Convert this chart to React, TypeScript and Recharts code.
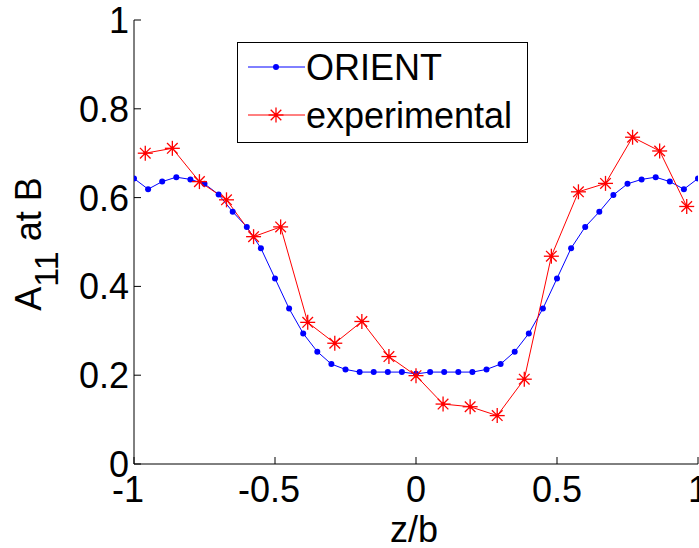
import React from 'react';
import { LineChart, Line, XAxis, YAxis, Legend } from 'recharts';

const FONT = '"Liberation Sans", Arial, Helvetica, sans-serif';

// ORIENT (computed) – z/b positions and A11 values
const orientZ = [
  -1, -0.95, -0.9, -0.85, -0.8, -0.75, -0.7, -0.65, -0.6, -0.55, -0.5,
  -0.45, -0.4, -0.35, -0.3, -0.25, -0.2, -0.15, -0.1, -0.05, 0,
  0.05, 0.1, 0.15, 0.2, 0.25, 0.3, 0.35, 0.4, 0.45, 0.5,
  0.55, 0.6, 0.65, 0.7, 0.75, 0.8, 0.85, 0.9, 0.95, 1,
];
const orientA = [
  0.643, 0.619, 0.636, 0.646, 0.641, 0.631, 0.607, 0.568, 0.534, 0.486, 0.418,
  0.35, 0.294, 0.253, 0.225, 0.213, 0.207, 0.207, 0.207, 0.207, 0.203,
  0.207, 0.207, 0.207, 0.207, 0.213, 0.225, 0.253, 0.294, 0.35, 0.418,
  0.486, 0.534, 0.568, 0.606, 0.631, 0.641, 0.646, 0.636, 0.619, 0.643,
];

// experimental – z/b positions and A11 values
const expZ = [
  -0.96, -0.864, -0.768, -0.672, -0.576, -0.48, -0.384, -0.288, -0.192, -0.096, 0,
  0.096, 0.192, 0.288, 0.384, 0.48, 0.576, 0.672, 0.768, 0.864, 0.96,
];
const expA = [
  0.7, 0.711, 0.636, 0.595, 0.512, 0.534, 0.319, 0.272, 0.321, 0.242, 0.199,
  0.135, 0.129, 0.109, 0.191, 0.468, 0.613, 0.632, 0.736, 0.705, 0.58,
];

const seriesNames = ['ORIENT', 'experimental'];
const xTicks = [-1, -0.5, 0, 0.5, 1];
const xTickLabels = ['-1', '-0.5', '0', '0.5', '1'];
const yTicks = [0, 0.2, 0.4, 0.6, 0.8, 1];
const yTickLabels = ['0', '0.2', '0.4', '0.6', '0.8', '1'];
const xTitle = 'z/b';

const orientData = orientZ.map((z, i) => ({ z, a: orientA[i] }));
const expData = expZ.map((z, i) => ({ z, a: expA[i] }));

const BLUE = '#0000ff';
const RED = '#ff0000';
const TICK_LEN = 7;
const FS = 36;

const BottomTick = (props: any) => {
  const { x, y, payload } = props;
  const v = payload.value;
  const idx = xTicks.indexOf(v);
  const label = idx >= 0 ? xTickLabels[idx] : String(v);
  return (
    <g>
      <line x1={x} y1={y} x2={x} y2={y - TICK_LEN} stroke="#000" strokeWidth={1} />
      <text x={x} y={y + 38} dx={v < 0 ? -6 : 0} textAnchor="middle" fontSize={FS} fontFamily={FONT} fill="#000">
        {label}
      </text>
    </g>
  );
};

const TopTick = (props: any) => {
  const { x, y } = props;
  return <line x1={x} y1={y} x2={x} y2={y + TICK_LEN} stroke="#000" strokeWidth={1} />;
};

const LeftTick = (props: any) => {
  const { x, y, payload } = props;
  const v = payload.value;
  const idx = yTicks.indexOf(v);
  const label = idx >= 0 ? yTickLabels[idx] : String(v);
  return (
    <g>
      <line x1={x} y1={y} x2={x + TICK_LEN} y2={y} stroke="#000" strokeWidth={1} />
      <text x={x - 5} y={y + 13} textAnchor="end" fontSize={FS} fontFamily={FONT} fill="#000">
        {label}
      </text>
    </g>
  );
};

const RightTick = (props: any) => {
  const { x, y } = props;
  return <line x1={x} y1={y} x2={x - TICK_LEN} y2={y} stroke="#000" strokeWidth={1} />;
};

const BlueDot = (p: any) => {
  if (p.cx == null || p.cy == null) return <g key={p.index} />;
  return <circle key={p.index} cx={p.cx} cy={p.cy} r={3} fill={BLUE} stroke="none" />;
};

const StarMark = ({ cx, cy }: { cx: number; cy: number }) => {
  const r = 7.5;
  const d = 5.3;
  return (
    <g stroke={RED} strokeWidth={1.3}>
      <line x1={cx - r} y1={cy} x2={cx + r} y2={cy} />
      <line x1={cx} y1={cy - r} x2={cx} y2={cy + r} />
      <line x1={cx - d} y1={cy - d} x2={cx + d} y2={cy + d} />
      <line x1={cx - d} y1={cy + d} x2={cx + d} y2={cy - d} />
      <circle cx={cx} cy={cy} r={2} fill={RED} stroke="none" />
    </g>
  );
};

const RedDot = (p: any) => {
  if (p.cx == null || p.cy == null) return <g key={p.index} />;
  return (
    <g key={p.index}>
      <StarMark cx={p.cx} cy={p.cy} />
    </g>
  );
};

const renderLegend = () => (
  <svg width={291} height={101} style={{ display: 'block' }}>
    <rect x={0.5} y={0.5} width={290} height={100} fill="#fff" stroke="#000" strokeWidth={1} />
    <line x1={11} y1={25} x2={68} y2={25} stroke={BLUE} strokeWidth={1} />
    <circle cx={39} cy={25} r={3} fill={BLUE} />
    <text x={69} y={38} fontSize={FS} fontFamily={FONT} fill="#000">
      {seriesNames[0]}
    </text>
    <line x1={11} y1={73} x2={68} y2={73} stroke={RED} strokeWidth={1} />
    <StarMark cx={39} cy={73} />
    <text x={69} y={86} fontSize={FS} fontFamily={FONT} fill="#000">
      {seriesNames[1]}
    </text>
  </svg>
);

const renderYLabel = (props: any) => {
  const vb = props.viewBox || { x: 0, y: 20, width: 134, height: 444 };
  const cx = vb.x + 41;
  const cy = vb.y + vb.height / 2 + 2;
  return (
    <text
      transform={`translate(${cx},${cy}) rotate(-90)`}
      textAnchor="middle"
      fontSize={FS}
      fontFamily={FONT}
      fill="#000"
    >
      A
      <tspan dy={17} fontSize={34}>11</tspan>
      <tspan dy={-17}>{' at B'}</tspan>
    </text>
  );
};

const renderXLabel = (props: any) => {
  const vb = props.viewBox || { x: 134, y: 464, width: 564, height: 84 };
  return (
    <text x={vb.x + vb.width / 2 - 2} y={vb.y + 78} textAnchor="middle" fontSize={FS} fontFamily={FONT} fill="#000">
      {xTitle}
    </text>
  );
};

export default function App() {
  return (
    <div style={{ position: 'absolute', left: 0, top: 0, width: 699, height: 548, background: '#fff', overflow: 'hidden' }}>
      <LineChart width={699} height={548} margin={{ top: 20, right: 1, bottom: 0, left: 0 }}>
        <XAxis
          xAxisId="b"
          type="number"
          dataKey="z"
          domain={[-1, 1]}
          ticks={xTicks}
          interval={0}
          allowDataOverflow
          height={84}
          tickSize={0}
          tickMargin={0}
          tickLine={false}
          axisLine={{ stroke: '#000', strokeWidth: 1 }}
          tick={<BottomTick />}
          label={renderXLabel}
        />
        <XAxis
          xAxisId="t"
          orientation="top"
          type="number"
          dataKey="z"
          domain={[-1, 1]}
          ticks={xTicks}
          interval={0}
          allowDataOverflow
          height={0}
          tickSize={0}
          tickMargin={0}
          tickLine={false}
          axisLine={{ stroke: '#000', strokeWidth: 1 }}
          tick={<TopTick />}
        />
        <YAxis
          yAxisId="l"
          type="number"
          domain={[0, 1]}
          ticks={yTicks}
          interval={0}
          allowDataOverflow
          width={134}
          tickSize={0}
          tickMargin={0}
          tickLine={false}
          axisLine={{ stroke: '#000', strokeWidth: 1 }}
          tick={<LeftTick />}
          label={renderYLabel}
        />
        <YAxis
          yAxisId="r"
          orientation="right"
          type="number"
          domain={[0, 1]}
          ticks={yTicks}
          interval={0}
          allowDataOverflow
          width={0}
          tickSize={0}
          tickMargin={0}
          tickLine={false}
          axisLine={{ stroke: '#000', strokeWidth: 1 }}
          tick={<RightTick />}
        />
        <Line
          xAxisId="b"
          yAxisId="l"
          data={orientData}
          dataKey="a"
          name={seriesNames[0]}
          type="linear"
          stroke={BLUE}
          strokeWidth={1}
          dot={BlueDot}
          activeDot={false}
          isAnimationActive={false}
        />
        <Line
          xAxisId="b"
          yAxisId="l"
          data={expData}
          dataKey="a"
          name={seriesNames[1]}
          type="linear"
          stroke={RED}
          strokeWidth={1}
          dot={RedDot}
          activeDot={false}
          isAnimationActive={false}
        />
        <Legend
          layout="vertical"
          align="center"
          verticalAlign="middle"
          width={291}
          height={101}
          content={renderLegend}
          wrapperStyle={{ position: 'absolute', left: 237, top: 42, width: 291, height: 101 }}
        />
      </LineChart>
    </div>
  );
}
